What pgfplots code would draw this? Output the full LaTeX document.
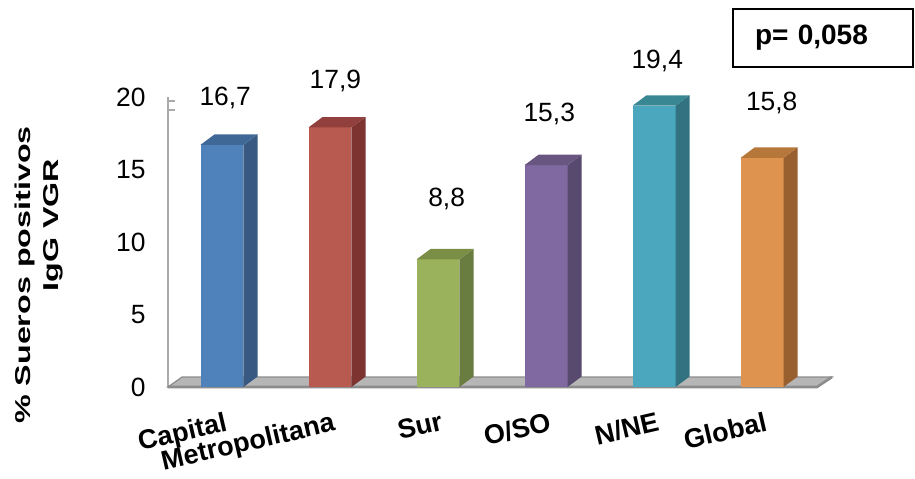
\documentclass[border=0pt]{standalone}
\usepackage{pgfplots}
\pgfplotsset{compat=1.18}
\usepackage{fontspec}
\setmainfont{Liberation Sans}

% face colours: front, side, top
\definecolor{bluF}{RGB}{79,129,186}
\definecolor{bluS}{RGB}{56,90,130}
\definecolor{bluT}{RGB}{64,104,150}
\definecolor{redF}{RGB}{185,90,81}
\definecolor{redS}{RGB}{125,52,49}
\definecolor{redT}{RGB}{146,64,61}
\definecolor{grnF}{RGB}{155,178,92}
\definecolor{grnS}{RGB}{106,125,64}
\definecolor{grnT}{RGB}{122,142,70}
\definecolor{purF}{RGB}{128,104,160}
\definecolor{purS}{RGB}{88,74,110}
\definecolor{purT}{RGB}{104,86,128}
\definecolor{aquF}{RGB}{75,167,190}
\definecolor{aquS}{RGB}{51,114,128}
\definecolor{aquT}{RGB}{58,135,148}
\definecolor{orgF}{RGB}{222,148,78}
\definecolor{orgS}{RGB}{152,96,46}
\definecolor{orgT}{RGB}{181,120,58}
\definecolor{floorTop}{RGB}{182,182,182}
\definecolor{floorEdge}{RGB}{140,140,140}
\definecolor{axgray}{RGB}{170,170,170}

% bar geometry (axis units): half front width, depth offsets
\newcommand{\hw}{0.199}
\newcommand{\dx}{0.13}
\newcommand{\dy}{0.72}

% one 3D bar: #1 position, #2 value, #3 front, #4 side, #5 top
\newcommand{\cubebar}[5]{%
  \pgfmathsetmacro{\xl}{#1-\hw}%
  \pgfmathsetmacro{\xr}{#1+\hw}%
  \pgfmathsetmacro{\xb}{#1+\hw+\dx}%
  \pgfmathsetmacro{\xlb}{#1-\hw+\dx}%
  \pgfmathsetmacro{\yt}{#2+\dy}%
  \addplot[ybar, bar width=0.398, bar shift=0, fill=#3, draw=none] coordinates {(#1,#2)};
  \addplot[fill=#4, draw=none] coordinates {(\xr,0) (\xb,\dy) (\xb,\yt) (\xr,#2)} -- cycle;
  \addplot[fill=#5, draw=none] coordinates {(\xl,#2) (\xr,#2) (\xb,\yt) (\xlb,\yt)} -- cycle;
}

\begin{document}
\begin{tikzpicture}
\path[use as bounding box] (-84pt,-45.5pt) rectangle (373.5pt,193.5pt);
\begin{axis}[
  at={(0,0)}, anchor=south west,
  scale only axis, width=332pt, height=145pt,
  xmin=-0.5, xmax=5.648, ymin=0, ymax=20,
  axis lines*=left,
  axis line style={-},
  x axis line style={draw=none},
  y axis line style={draw=axgray, line width=1pt},
  ytick={0,5,10,15,20},
  xtick={0,1,2,3,4,5},
  xticklabels={Capital, Metropolitana, Sur, O/SO, N/NE, Global},
  major tick length=0pt,
  tick style={draw=none},
  /pgf/number format/assume math mode=true,
  yticklabel style={font=\fontsize{13.2}{15}\selectfont, anchor=east, inner sep=0pt, xshift=-11pt},
  xticklabel style={font=\bfseries\fontsize{13.5}{16}\selectfont, yshift=-12pt, xshift=1pt, rotate=13, anchor=north east, inner sep=0pt},
  clip=false,
]
% floor
\addplot[fill=floorTop, draw=floorEdge, line width=0.6pt] coordinates {(-0.5,0) (5.509,0) (5.648,0.69) (-0.37,0.69)} -- cycle;
\addplot[draw=floorEdge, line width=1.3pt] coordinates {(-0.5,0) (5.509,0) (5.648,0.69)};

\cubebar{0}{16.7}{bluF}{bluS}{bluT}
\cubebar{1}{17.9}{redF}{redS}{redT}
\cubebar{2}{8.8}{grnF}{grnS}{grnT}
\cubebar{3}{15.3}{purF}{purS}{purT}
\cubebar{4}{19.4}{aquF}{aquS}{aquT}
\cubebar{5}{15.8}{orgF}{orgS}{orgT}

% small marks at the top of the value axis
\draw[axgray, line width=1pt] (axis cs:-0.5,19.72) -- (axis cs:-0.435,19.72);
\draw[axgray, line width=1pt] (axis cs:-0.5,19.1) -- (axis cs:-0.435,19.1);

% value labels
\begin{scope}[every node/.style={font=\fontsize{13.2}{15}\selectfont}]
\node at (axis cs:0.03,19.93) {16,7};
\node at (axis cs:1.05,21.1) {17,9};
\node at (axis cs:2.08,12.97) {8,8};
\node at (axis cs:3.03,18.83) {15,3};
\node at (axis cs:4.03,22.48) {19,4};
\node at (axis cs:5.09,19.59) {15,8};
\end{scope}

% value axis title
\node[font=\bfseries\fontsize{10.75}{12}\selectfont, rotate=90, xscale=1.5] at (axis cs:-1.824,7.72) {\% Sueros positivos};
\node[font=\bfseries\fontsize{10.75}{12}\selectfont, rotate=90, xscale=1.5] at (axis cs:-1.565,11.17) {IgG VGR};

% test result
\node[draw, line width=1pt, font=\bfseries\fontsize{14}{16}\selectfont, minimum height=29pt, text width=68pt, inner xsep=11pt, align=left] at (axis cs:5.565,24.07) {p= 0,058};
\end{axis}
\end{tikzpicture}
\end{document}
